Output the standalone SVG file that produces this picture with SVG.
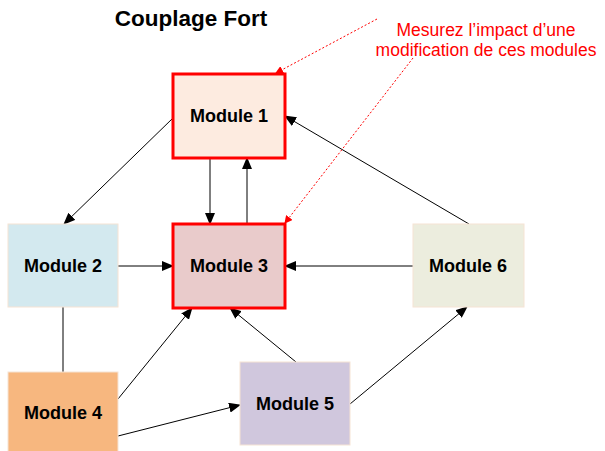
<svg xmlns="http://www.w3.org/2000/svg" width="605" height="451" viewBox="0 0 605 451">
  <style>
    .box { stroke: #f6e3d4; stroke-width: 1; }
    .hot { stroke: #ff0000; stroke-width: 3; }
    .label { font-family: "Liberation Sans", Arial, sans-serif; font-weight: bold; font-size: 18px; text-anchor: middle; fill: #000; }
    .title { font-family: "Liberation Sans", Arial, sans-serif; font-weight: bold; font-size: 22.5px; text-anchor: middle; fill: #000; }
    .note { font-family: "Liberation Sans", Arial, sans-serif; font-size: 17.5px; text-anchor: middle; fill: #ff0000; }
    .link { stroke: #000; stroke-width: 1; fill: none; }
    .arrow { marker-end: url(#head); }
    .hint { stroke: #ff0000; stroke-width: 1; stroke-dasharray: 2 2; fill: none; marker-end: url(#redhead); }
  </style>
  <defs>
    <marker id="head" markerUnits="userSpaceOnUse" markerWidth="12" markerHeight="10" refX="11" refY="5" orient="auto">
      <path d="M0,0 L12,5 L0,10 Z" fill="#000"/>
    </marker>
    <marker id="redhead" markerUnits="userSpaceOnUse" markerWidth="8" markerHeight="8" refX="7" refY="4" orient="auto">
      <path d="M0,0 L8,4 L0,8 Z" fill="#ff0000"/>
    </marker>
  </defs>

  <rect width="605" height="451" fill="#ffffff"/>

  <text class="title" x="191" y="26">Couplage Fort</text>

  <!-- connectors -->
  <g id="connectors">
    <line class="link arrow" x1="173" y1="118" x2="64" y2="224"/>
    <line class="link arrow" x1="210" y1="158" x2="210" y2="224"/>
    <line class="link arrow" x1="247" y1="224" x2="247" y2="158"/>
    <line class="link arrow" x1="469" y1="224" x2="285" y2="116"/>
    <line class="link arrow" x1="118" y1="266" x2="173" y2="266"/>
    <line class="link arrow" x1="413" y1="266" x2="285" y2="266"/>
    <line class="link" x1="63" y1="307" x2="63" y2="372"/>
    <line class="link arrow" x1="118" y1="399" x2="192" y2="308"/>
    <line class="link arrow" x1="296" y1="362" x2="230" y2="308"/>
    <line class="link arrow" x1="118" y1="436" x2="240" y2="405"/>
    <line class="link arrow" x1="350" y1="404" x2="467" y2="307"/>
    <line class="hint" x1="377" y1="19" x2="276" y2="73"/>
    <line class="hint" x1="413" y1="58" x2="285" y2="223"/>
  </g>

  <g id="module1">
    <rect class="hot" x="173" y="74" width="112" height="84" fill="#fdebe0"/>
    <text class="label" x="229" y="122">Module 1</text>
  </g>
  <g id="module2">
    <rect class="box" x="8" y="224" width="110" height="83" fill="#d3e9ef"/>
    <text class="label" x="63" y="272">Module 2</text>
  </g>
  <g id="module3">
    <rect class="hot" x="173" y="224" width="112" height="84" fill="#e9cbcb"/>
    <text class="label" x="229" y="272">Module 3</text>
  </g>
  <g id="module4">
    <rect class="box" x="8" y="372" width="110" height="82" fill="#f7b77f"/>
    <text class="label" x="63" y="419">Module 4</text>
  </g>
  <g id="module5">
    <rect class="box" x="240" y="362" width="110" height="83" fill="#d0c7dd"/>
    <text class="label" x="295" y="410">Module 5</text>
  </g>
  <g id="module6">
    <rect class="box" x="413" y="224" width="111" height="83" fill="#ecedde"/>
    <text class="label" x="468" y="272">Module 6</text>
  </g>

  <g id="note">
    <text class="note" x="486" y="36">Mesurez l’impact d’une</text>
    <text class="note" x="486" y="56">modification de ces modules</text>
  </g>
</svg>
